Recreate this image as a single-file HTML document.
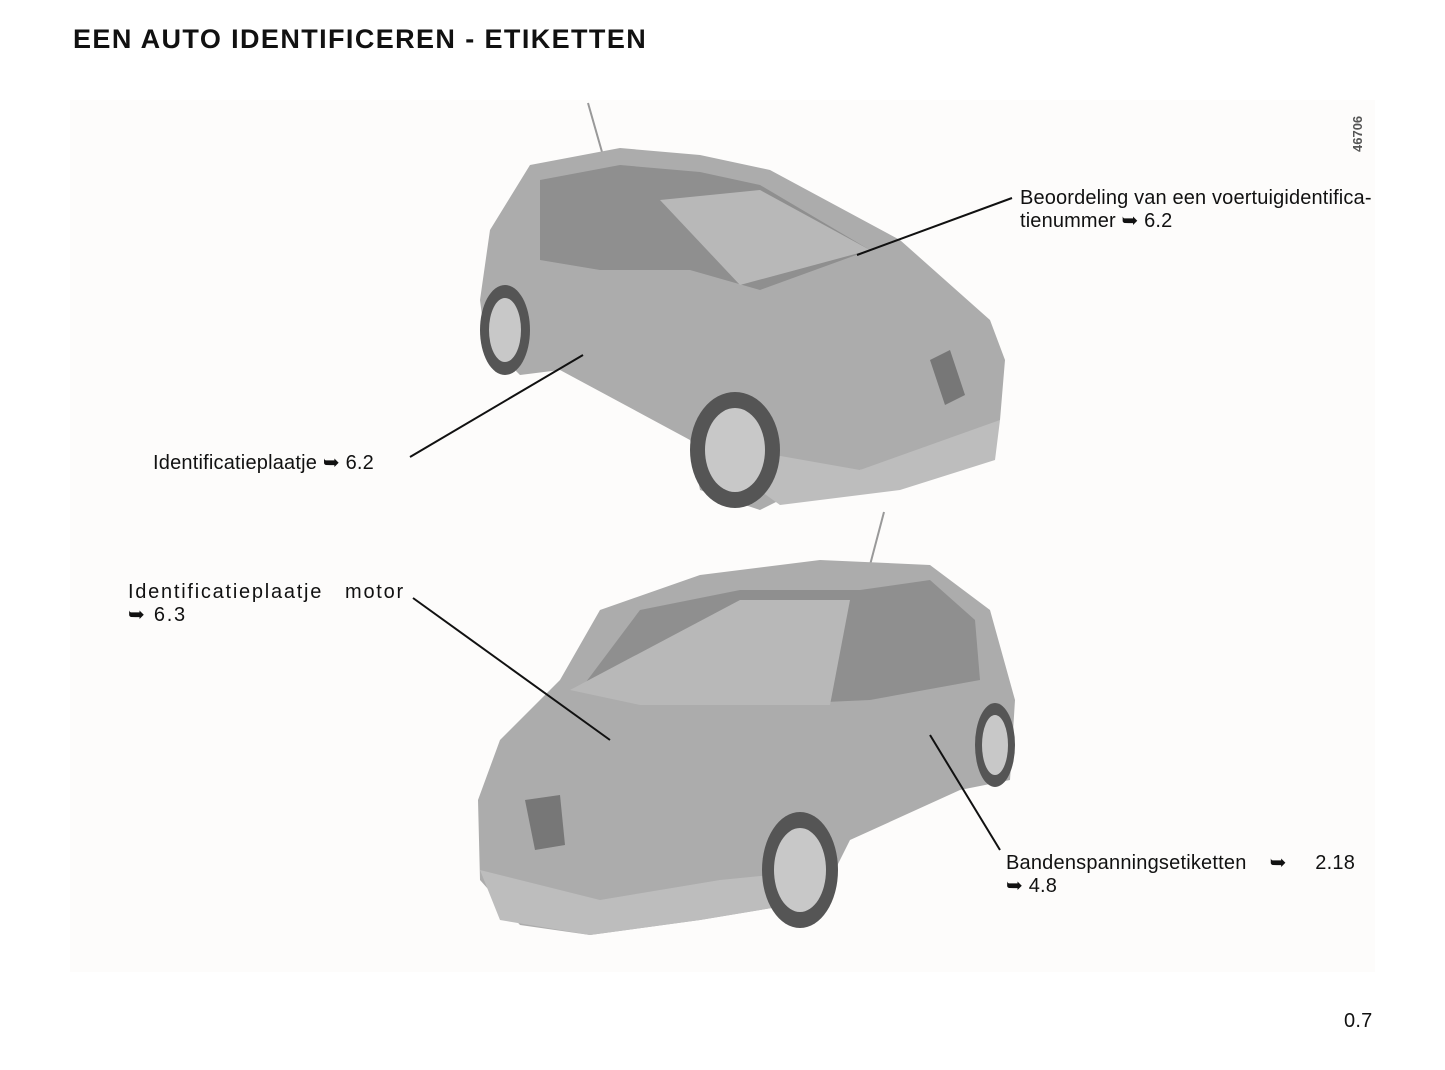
<!DOCTYPE html>
<html><head><meta charset="utf-8"><style>
body{margin:0;width:1445px;height:1070px;background:#fff;position:relative;overflow:hidden;font-family:"Liberation Sans",sans-serif;color:#111}
.t{position:absolute;font-size:20px;line-height:23px;letter-spacing:0.2px}
</style></head><body>
<div style="position:absolute;left:73px;top:24px;font-size:27px;font-weight:bold;letter-spacing:1.4px">EEN AUTO IDENTIFICEREN - ETIKETTEN</div>
<div style="position:absolute;left:70px;top:100px;width:1305px;height:872px;background:#fdfcfb"></div>
<svg style="position:absolute;left:0;top:0" width="1445" height="1070">
<g>
<line x1="588" y1="103" x2="602" y2="152" stroke="#999" stroke-width="2"/>
<path d="M530 165 L620 148 L700 155 L770 170 L900 240 L990 320 L1005 360 L1000 420 L960 450 L860 470 L780 500 L760 510 L700 490 L690 440 L560 370 L520 375 L485 340 L480 300 L490 230 Z" fill="#acacac"/>
<path d="M540 180 L620 165 L700 172 L760 185 L870 250 L760 290 L690 270 L600 270 L540 260 Z" fill="#8f8f8f"/>
<path d="M660 200 L760 190 L870 250 L740 285 Z" fill="#b8b8b8"/>
<path d="M690 440 L860 470 L1000 420 L995 460 L900 490 L780 505 Z" fill="#bdbdbd"/>
<ellipse cx="735" cy="450" rx="45" ry="58" fill="#555"/><ellipse cx="735" cy="450" rx="30" ry="42" fill="#c8c8c8"/>
<ellipse cx="505" cy="330" rx="25" ry="45" fill="#555"/><ellipse cx="505" cy="330" rx="16" ry="32" fill="#c8c8c8"/>
<path d="M930 360 L950 350 L965 395 L945 405 Z" fill="#777"/>
</g>
<g>
<line x1="884" y1="512" x2="870" y2="565" stroke="#999" stroke-width="2"/>
<path d="M600 610 L700 575 L820 560 L930 565 L990 610 L1015 700 L1010 780 L960 790 L850 840 L820 900 L700 920 L590 935 L520 925 L480 880 L478 800 L500 740 L560 680 Z" fill="#acacac"/>
<path d="M580 690 L640 610 L740 590 L860 590 L930 580 L975 620 L980 680 L870 700 L760 705 L640 700 Z" fill="#8f8f8f"/>
<path d="M570 690 L740 600 L850 600 L830 705 L640 705 Z" fill="#b8b8b8"/>
<path d="M480 870 L600 900 L720 880 L820 870 L820 900 L700 920 L590 935 L500 920 Z" fill="#bdbdbd"/>
<ellipse cx="800" cy="870" rx="38" ry="58" fill="#555"/><ellipse cx="800" cy="870" rx="26" ry="42" fill="#c8c8c8"/>
<ellipse cx="995" cy="745" rx="20" ry="42" fill="#555"/><ellipse cx="995" cy="745" rx="13" ry="30" fill="#c8c8c8"/>
<path d="M525 800 L560 795 L565 845 L535 850 Z" fill="#777"/>
</g>
<g stroke="#111" stroke-width="2">
<line x1="1012" y1="198" x2="857" y2="255"/>
<line x1="410" y1="457" x2="583" y2="355"/>
<line x1="413" y1="598" x2="610" y2="740"/>
<line x1="1000" y1="850" x2="930" y2="735"/>
</g>
<text x="1362" y="152" transform="rotate(-90 1362 152)" font-family="Liberation Sans" font-size="13" font-weight="bold" fill="#555">46706</text>
</svg>
<div class="t" style="left:1020px;top:187px;letter-spacing:0.15px">Beoordeling van een voertuigidentifica-<br>tienummer ➥ 6.2</div>
<div class="t" style="left:153px;top:452px">Identificatieplaatje ➥ 6.2</div>
<div class="t" style="left:128px;top:581px;letter-spacing:1.75px">Identificatieplaatje&nbsp;&nbsp;&nbsp;motor<br>➥ 6.3</div>
<div class="t" style="left:1006px;top:852px">Bandenspanningsetiketten&nbsp;&nbsp;&nbsp;&nbsp;➥&nbsp;&nbsp;&nbsp;&nbsp;&nbsp;2.18<br>➥ 4.8</div>
<div class="t" style="left:1344px;top:1010px">0.7</div>
</body></html>
